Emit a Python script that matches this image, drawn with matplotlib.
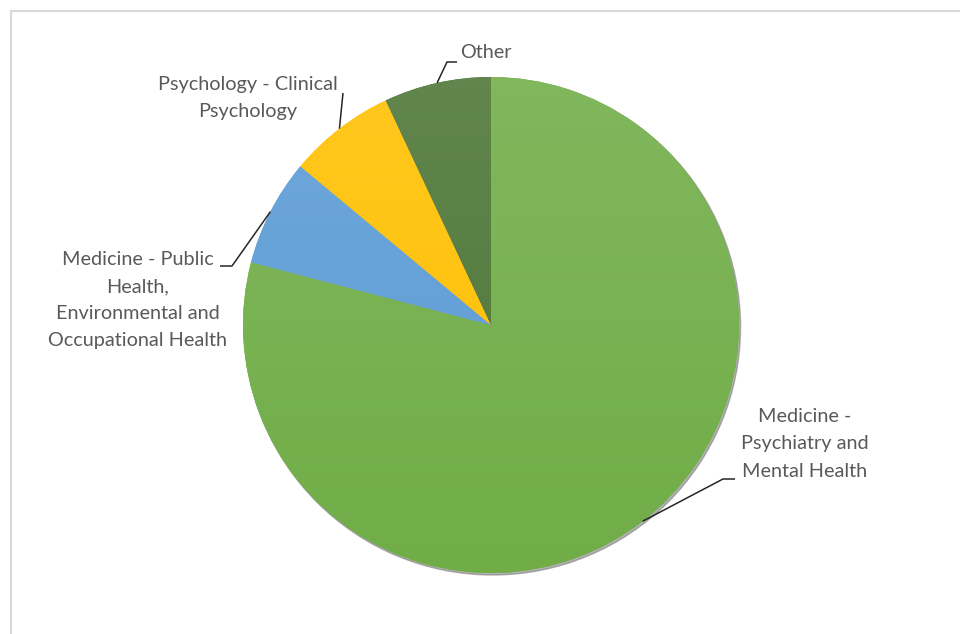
import matplotlib.pyplot as plt
import matplotlib.patches as mpatches
import numpy as np

# data
labels = ['Medicine -\nPsychiatry and\nMental Health',
          'Medicine - Public\nHealth,\nEnvironmental and\nOccupational Health',
          'Psychology - Clinical\nPsychology',
          'Other']
counts = [34, 3, 3, 3]
colors = ['#70AD47', '#5B9BD5', '#FFC000', '#4C7535']

# label placement (pixel coords, y down) : text center, elbow, line end
text_pos = [(805, 444), (138, 300), (248, 98), (486, 53)]
elbows = [(723, 479), (232, 266), (343, 93), (447, 62)]
ends = [(735, 479), (220, 266), (343, 93), (457, 62)]

W, H = 960, 634
cx, cy, r = 491, H - 325, 248

fig = plt.figure(figsize=(9.6, 6.34), dpi=100)
ax = fig.add_axes([0, 0, 1, 1])

# soft shadow under the pie
ax.add_patch(mpatches.Circle((cx + 1.5, cy - 2), r, color='#7f7f7f', alpha=0.6, zorder=0))

wedges, _ = ax.pie(counts, colors=colors, startangle=90, counterclock=False,
                   center=(cx, cy), radius=r, frame=True,
                   wedgeprops=dict(linewidth=0))

# office-style vertical gradient, lighter at top
for w, c in zip(wedges, colors):
    base = np.array(plt.matplotlib.colors.to_rgb(c))
    light = base + (1 - base) * 0.12
    t = np.linspace(0, 1, 256)[:, None]
    grad = light[None, :] * (1 - t) + base[None, :] * t
    img = np.repeat(grad[:, None, :], 2, axis=1)
    im = ax.imshow(img, extent=[cx - r, cx + r, cy - r, cy + r], origin='upper',
                   aspect='auto', zorder=1.5, interpolation='bilinear')
    im.set_clip_path(w)

# labels and leader lines
for w, lab, tp, el, en in zip(wedges, labels, text_pos, elbows, ends):
    mid = np.deg2rad((w.theta1 + w.theta2) / 2)
    ax_ = cx + r * np.cos(mid)
    ay_ = cy + r * np.sin(mid)
    ax.plot([ax_, el[0], en[0]], [ay_, H - el[1], H - en[1]], color='#262626', lw=1.1,
            zorder=3, solid_capstyle='butt')
    ax.text(tp[0], H - tp[1], lab, ha='center', va='center', fontsize=14.3,
            family='Lato', color='#595959', linespacing=1.72, zorder=4)

ax.set_xlim(0, W)
ax.set_ylim(0, H)
ax.set_aspect('auto')
ax.axis('off')

# chart frame
fig.patches.append(mpatches.Rectangle((11 / W, -0.1), 1.2, (H - 11) / H + 0.1,
                                      transform=fig.transFigure, fill=False,
                                      edgecolor='#d9d9d9', lw=1.5))

fig.savefig('out.png', dpi=100)
